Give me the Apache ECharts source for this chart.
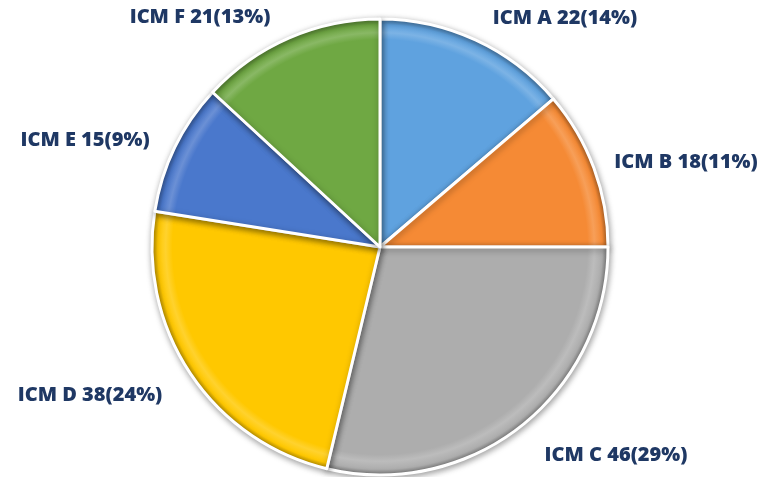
<!DOCTYPE html>
<html>
<head>
<meta charset="utf-8">
<script src="https://cdn.jsdelivr.net/npm/echarts@6/dist/echarts.min.js"></script>
<style>
  html, body { margin: 0; padding: 0; background: #fff; }
  #chart { width: 760px; height: 477px; }
</style>
</head>
<body>
<div id="chart"></div>
<script>
var names = ["ICM A", "ICM B", "ICM C", "ICM D", "ICM E", "ICM F"];
var values = [22, 18, 46, 38, 15, 21];
var percents = [14, 11, 29, 24, 9, 13];
var colors = ["#5FA2DF", "#F58A35", "#ADADAD", "#FFC800", "#4A78CC", "#6FA843"];

// where each label sits (centre of text)
var labelPos = [[565, 18], [686, 162], [616, 455], [90, 395], [85, 140], [200, 17]];

var CX = 380, CY = 247, R = 228;

var shade = (hex, k) => {
  var n = parseInt(hex.slice(1), 16);
  var r = (n >> 16) & 255, g = (n >> 8) & 255, b = n & 255;
  var f = (c) => Math.max(0, Math.min(255, Math.round(k > 0 ? c + (255 - c) * k : c * (1 + k))));
  return "rgb(" + f(r) + "," + f(g) + "," + f(b) + ")";
};

var bevel = (hex) => ({
  type: "radial",
  x: CX, y: CY, r: R,
  global: true,
  colorStops: [
    { offset: 0, color: hex },
    { offset: 0.91, color: hex },
    { offset: 0.94, color: shade(hex, 0.18) },
    { offset: 0.975, color: hex },
    { offset: 1, color: shade(hex, -0.3) },
  ],
});

var chart = echarts.init(document.getElementById("chart"));

chart.setOption({
  backgroundColor: "#fff",
  animation: false,
  series: [
    {
      type: "pie",
      center: [CX, CY],
      radius: [0, R],
      startAngle: 90,
      clockwise: true,
      itemStyle: {
        borderColor: "#fff",
        borderWidth: 3,
        shadowBlur: 6,
        shadowColor: "rgba(0,0,0,0.35)",
        shadowOffsetX: 1,
        shadowOffsetY: 2,
      },
      label: {
        show: true,
        position: "outside",
        formatter: (p) => p.name + " " + p.value + "(" + percents[p.dataIndex] + "%)",
        color: "#1F3864",
        fontFamily: "Open Sans",
        fontWeight: 800,
        fontSize: 20,
        overflow: "none",
        width: 200,
      },
      labelLine: { show: false },
      labelLayout: (params) => ({
        x: labelPos[params.dataIndex][0],
        y: labelPos[params.dataIndex][1],
        align: "center",
        verticalAlign: "middle",
      }),
      data: names.map((n, i) => ({
        name: n,
        value: values[i],
        itemStyle: { color: bevel(colors[i]) },
      })),
    },
  ],
});
</script>
</body>
</html>
